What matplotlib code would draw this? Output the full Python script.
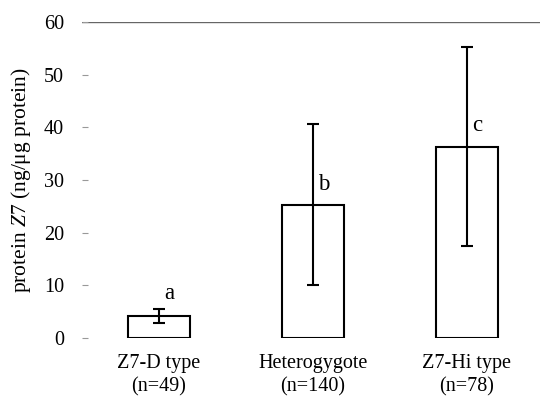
import matplotlib
matplotlib.use('Agg')
import matplotlib.pyplot as plt

plt.rcParams['font.family'] = ['Liberation Serif', 'DejaVu Serif']
plt.rcParams['mathtext.fontset'] = 'custom'
plt.rcParams['mathtext.rm'] = 'Liberation Serif'
plt.rcParams['mathtext.it'] = 'Liberation Serif:italic'

# data
groups = ['Z7-D type\n(n=49)', 'Heterogygote\n(n=140)', 'Z7-Hi type\n(n=78)']
means = [4.2, 25.3, 36.3]
errors = [1.3, 15.3, 18.9]
letters = ['a', 'b', 'c']
letter_y = [8.5, 29.2, 40.3]
y_ticks = [0, 10, 20, 30, 40, 50, 60]

fig = plt.figure(figsize=(5.4, 4.01), dpi=100)
ax = fig.add_axes([0.152, 0.157, 0.855, 0.788])

x = range(len(groups))
ax.bar(x, means, width=0.4, color='white', edgecolor='black', linewidth=1.5,
       yerr=errors, capsize=4.5, error_kw={'elinewidth': 1.5, 'capthick': 1.5, 'ecolor': 'black'})

for i, (lab, ly) in enumerate(zip(letters, letter_y)):
    ax.text(i + 0.07, ly, lab, ha='center', va='center', fontsize=16.5)

ax.axhline(60, color='#666666', linewidth=1, zorder=0)

ax.set_xlim(-0.5, 2.5)
ax.set_ylim(0, 60)
ax.set_yticks(y_ticks)
ax.set_xticks(list(x))
ax.set_xticklabels(groups, fontsize=14.5, linespacing=1.33)
ax.tick_params(axis='y', direction='in', length=4.5, color='#999999', labelsize=14.5, pad=13)
ax.tick_params(axis='x', length=0, pad=11.5)
for s in ax.spines.values():
    s.set_visible(False)

ax.set_ylabel(r'protein $\mathit{Z7}$ (ng/μg protein)', fontsize=15.5, labelpad=8)

fig.savefig('out.png', dpi=100)
